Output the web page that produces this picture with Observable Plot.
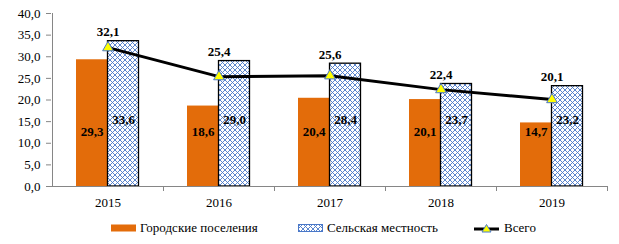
<!DOCTYPE html>
<html><head><meta charset="utf-8">
<script src="https://cdn.jsdelivr.net/npm/d3@7"></script>
<script src="https://cdn.jsdelivr.net/npm/@observablehq/plot@0.6"></script>
<style>
body{margin:0;background:#fff;}
#wrap{position:relative;width:619px;height:244px;}
#wrap, #wrap *, svg text{font-family:"Liberation Serif","DejaVu Serif",serif !important;}
#legend{position:absolute;left:0;top:212px;width:619px;height:32px;font-size:13px;color:#000;}
#legend .it{position:absolute;top:7px;display:flex;align-items:center;height:18px;}
</style>
</head><body>
<div id="wrap"><div id="chart"></div><div id="legend"></div></div>
<script>
const years = ["2015","2016","2017","2018","2019"];
const urban = [29.3, 18.6, 20.4, 20.1, 14.7];
const rural = [33.6, 29.0, 28.4, 23.7, 23.2];
const total = [32.1, 25.4, 25.6, 22.4, 20.1];
const seriesNames = ["Городские поселения", "Сельская местность", "Всего"];
const yTicks = [0,5,10,15,20,25,30,35,40];

const fmt = v => v.toFixed(1).replace(".", ",");
const rows = years.map((y,i)=>({year:y, urban:urban[i], rural:rural[i], total:total[i]}));
const ORANGE = "#e36c0a", BLUE = "#4a78c8", AXIS = "#868686";
const font = "Liberation Serif";

const plot = Plot.plot({
  width: 619, height: 212,
  marginLeft: 51, marginRight: 12, marginTop: 13, marginBottom: 26,
  style: {fontFamily: font, fontSize: "13px", color: "#000", background: "#fff"},
  x: {domain: years, padding: 0, label: null},
  y: {domain: [0, 40], label: null},
  marks: [
    Plot.barY(rows, {x: "year", y: "urban", fill: ORANGE, insetLeft: 24, insetRight: 56}),
    Plot.barY(rows, {x: "year", y: "rural", fill: "url(#hatch)", stroke: "#000", strokeWidth: 1.3, insetLeft: 55.5, insetRight: 24.5}),
    Plot.ruleY([0], {stroke: AXIS}),
    Plot.ruleX([years[0]], {y1: 0, y2: 40, dx: -55.5, stroke: AXIS}),
    Plot.ruleX(years, {y1: 0, y2: 0, dx: 55.5, insetBottom: -5, stroke: AXIS}),
    Plot.axisY({ticks: yTicks, tickFormat: fmt, tickSize: 5, tickPadding: 6, stroke: AXIS, fontSize: 13, fontFamily: font, label: null}),
    Plot.axisX({tickSize: 0, tickPadding: 11, fontSize: 13, fontFamily: font, label: null}),
    Plot.line(rows, {x: "year", y: "total", stroke: "#000", strokeWidth: 3}),
    Plot.dot(rows, {x: "year", y: "total", symbol: "triangle", r: 4, fill: "#ffff00", stroke: BLUE, strokeWidth: 1}),
    Plot.text(rows, {x: "year", y: () => 12.7, text: d => fmt(d.urban), dx: -16, fontWeight: "bold", fontSize: 13, fontFamily: font, fill: "#000"}),
    Plot.text(rows, {x: "year", y: () => 15.5, text: d => fmt(d.rural), dx: 15.5, fontWeight: "bold", fontSize: 13, fontFamily: font, fill: "#000"}),
    Plot.text(rows, {x: "year", y: "rural", text: d => fmt(d.total), dy: -9, fontWeight: "bold", fontSize: 13, fontFamily: font, fill: "#000"})
  ]
});
const defs = d3.select(plot).insert("defs", ":first-child");
const pat = defs.append("pattern").attr("id","hatch").attr("patternUnits","userSpaceOnUse").attr("width",5).attr("height",5);
pat.append("rect").attr("width",5).attr("height",5).attr("fill","#fff");
pat.append("path").attr("d","M0,0L5,5M5,0L0,5M-1,4L1,6M4,-1L6,1M4,6L6,4M-1,1L1,-1").attr("stroke",BLUE).attr("stroke-width",0.9).attr("fill","none");
document.getElementById("chart").appendChild(plot);

const lg = document.getElementById("legend");
const items = [
  {x:111, sw:`<svg width="25" height="8"><rect x="0" y="0.5" width="25" height="7" fill="${ORANGE}"/></svg>`},
  {x:298, sw:`<svg width="25" height="8"><defs><pattern id="h2" patternUnits="userSpaceOnUse" width="5" height="5"><rect width="5" height="5" fill="#fff"/><path d="M0,0L5,5M5,0L0,5" stroke="${BLUE}" stroke-width="0.9"/></pattern></defs><rect x="0.5" y="0.5" width="24" height="7" fill="url(#h2)" stroke="${BLUE}" stroke-width="1"/></svg>`},
  {x:474, sw:`<svg width="26" height="12"><line x1="0" y1="7" x2="25" y2="7" stroke="#000" stroke-width="3"/><path d="M12.5,2.5L17,10L8,10Z" fill="#ffff00" stroke="${BLUE}" stroke-width="1"/></svg>`}
];
items.forEach((it,i)=>{
  const d = document.createElement("div");
  d.className = "it"; d.style.left = it.x + "px";
  d.innerHTML = it.sw + `<span style="margin-left:4px">${seriesNames[i]}</span>`;
  lg.appendChild(d);
});
</script>
</body></html>
